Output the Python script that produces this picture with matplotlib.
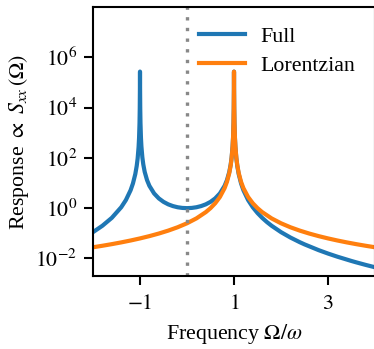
import matplotlib
matplotlib.use("Agg")
import matplotlib.pyplot as plt
from matplotlib.ticker import NullLocator

plt.rcParams['font.family'] = ['Liberation Serif', 'DejaVu Serif']
plt.rcParams['mathtext.fontset'] = 'stix'
plt.rcParams['font.size'] = 10.5

# ---- data ----
full_x = [-2.0, -1.8, -1.6, -1.4, -1.3, -1.2, -1.15, -1.1, -1.07, -1.05, -1.03, -1.02,
          -1.01, -1.005, -1.002, -1.0, -0.998, -0.995, -0.99, -0.98, -0.97, -0.95, -0.93,
          -0.9, -0.85, -0.8, -0.7, -0.6, -0.5, -0.4, -0.3, -0.2, -0.1, 0.0,
          0.1, 0.2, 0.3, 0.4, 0.5, 0.6, 0.7, 0.8, 0.85, 0.9, 0.93, 0.95, 0.97, 0.98,
          0.99, 0.995, 0.998, 1.0, 1.002, 1.005, 1.01, 1.02, 1.03, 1.05, 1.07, 1.1,
          1.15, 1.2, 1.3, 1.4, 1.5, 1.6, 1.7, 1.8, 2.0, 2.2, 2.4, 2.5, 2.8, 3.0, 3.2,
          3.5, 3.6, 3.8, 4.0]
full_y = [0.1111, 0.1993, 0.4109, 1.085, 2.100, 5.165, 9.615, 22.68, 47.63, 95.18, 269.6, 612.7,
          2453, 9597, 50680, 270270, 50840, 9690, 2502, 637.6, 286.3, 105.2, 54.79,
          27.70, 12.99, 7.716, 3.845, 2.441, 1.778, 1.417, 1.208, 1.085, 1.020, 1.0,
          1.020, 1.085, 1.208, 1.417, 1.778, 2.441, 3.845, 7.716, 12.99, 27.70, 54.79, 105.2, 286.3, 637.6,
          2502, 9690, 50840, 270270, 50680, 9597, 2453, 612.7, 269.6, 95.18, 47.63, 22.68,
          9.615, 5.165, 2.100, 1.085, 0.64, 0.4109, 0.2800, 0.1993, 0.1111, 0.06782, 0.04414, 0.03628,
          0.02137, 0.015625, 0.011713, 0.007901, 0.006991, 0.005536, 0.004444]

lor_x = [-2.0, -1.8, -1.6, -1.4, -1.2, -1.0, -0.8, -0.6, -0.4, -0.2, 0.0, 0.2, 0.4, 0.5,
         0.6, 0.7, 0.8, 0.85, 0.9, 0.93, 0.95, 0.97, 0.98, 0.99, 0.995, 0.998, 1.0,
         1.002, 1.005, 1.01, 1.02, 1.03, 1.05, 1.07, 1.1, 1.15, 1.2, 1.3, 1.4, 1.5,
         1.6, 1.8, 2.0, 2.2, 2.4, 2.6, 2.8, 3.0, 3.2, 3.4, 3.6, 3.8, 4.0]
lor_y = [0.02778, 0.03189, 0.03698, 0.04340, 0.05165, 0.0625, 0.07716, 0.09766, 0.1276, 0.1736,
         0.25, 0.3906, 0.6944, 1.0, 1.5625, 2.778, 6.25, 11.11, 25.0, 51.02, 100.0, 277.8, 625.0,
         2477, 9641, 50710, 268800, 50710, 9641, 2477, 625.0, 277.8, 100.0, 51.02, 25.0, 11.11,
         6.25, 2.778, 1.5625, 1.0, 0.6944, 0.3906, 0.25, 0.1736, 0.1276, 0.09766, 0.07716, 0.0625,
         0.05165, 0.04340, 0.03698, 0.03189, 0.02778]

xticks = [-1, 1, 3]
xtick_labels = ['$-1$', '$1$', '$3$']
yticks = [1e-2, 1e0, 1e2, 1e4, 1e6]
ytick_labels = ['$10^{-2}$', '$10^{0}$', '$10^{2}$', '$10^{4}$', '$10^{6}$']

fig = plt.figure(figsize=(374 / 150, 349 / 150), dpi=150)
ax = fig.add_axes([93 / 374, 73 / 349, 282 / 374, 269 / 349])

ax.plot(full_x, full_y, color='#1f77b4', lw=2.0, label='Full')
ax.plot(lor_x, lor_y, color='#ff7f0e', lw=2.0, label='Lorentzian')
ax.axvline(0, color='#888888', lw=1.6, dashes=(1, 2.2))

ax.set_yscale('log')
ax.set_xlim(-2, 4)
ax.set_ylim(2e-3, 1e8)
ax.set_xticks(xticks)
ax.set_xticklabels(xtick_labels)
ax.set_yticks(yticks)
ax.set_yticklabels(ytick_labels)
ax.yaxis.set_minor_locator(NullLocator())
ax.xaxis.set_minor_locator(NullLocator())
ax.tick_params(direction='out', length=4.5, width=1.0)
ax.tick_params(axis='y', pad=3.0)
ax.tick_params(axis='x', pad=4.5)
for s in ax.spines.values():
    s.set_linewidth(1.0)

ax.set_xlabel(r'Frequency $\mathit{\Omega}/\omega$', labelpad=4)
ax.set_ylabel(r'Response $\propto$ $S_{xx}\,(\mathit{\Omega})$', labelpad=2)

ax.legend(loc='upper right', frameon=False, handlelength=2.1, handletextpad=0.7,
          labelspacing=0.4)

fig.savefig('out.png', dpi=150)
